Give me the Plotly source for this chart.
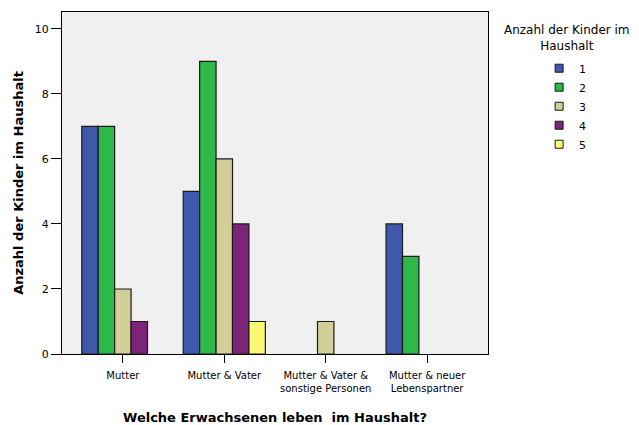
import plotly.graph_objects as go

# Household composition categories (x axis)
categories = [
    "Mutter",
    "Mutter & Vater",
    "Mutter & Vater &<br>sonstige Personen",
    "Mutter & neuer<br>Lebenspartner",
]

# Number of children in household -> counts per category (None = no bar)
series_names = ["1", "2", "3", "4", "5"]
counts_1 = [7, 5, None, 4]
counts_2 = [7, 9, None, 3]
counts_3 = [2, 6, 1, None]
counts_4 = [1, 4, None, None]
counts_5 = [None, 1, None, None]

y_ticks = [0, 2, 4, 6, 8, 10]

colors = ["#3e58ac", "#2eb84a", "#d3ce97", "#7b2479", "#fbf873"]
all_counts = [counts_1, counts_2, counts_3, counts_4, counts_5]

FONT = "DejaVu Sans"
OUTLINE = "#1a1a1a"

fig = go.Figure()
for name, vals, col in zip(series_names, all_counts, colors):
    fig.add_trace(go.Bar(
        x=list(range(len(categories))),
        y=vals,
        name=name,
        legendgroup=name,
        showlegend=False,
        marker=dict(color=col, line=dict(color=OUTLINE, width=1.2)),
    ))

# small square legend keys for the series
for name, col in zip(series_names, colors):
    fig.add_trace(go.Scatter(
        x=[None], y=[None], mode="markers", name=name, legendgroup=name,
        marker=dict(symbol="square", size=8, color=col,
                    line=dict(color=OUTLINE, width=1)),
    ))

# legend heading
fig.add_annotation(
    text="Anzahl der Kinder im<br>Haushalt",
    xref="paper", yref="paper", x=1.185, y=1.0, yshift=-9,
    xanchor="center", yanchor="top", showarrow=False, align="center",
    font=dict(family=FONT, size=12),
)

# x axis title
fig.add_annotation(
    text="<b>Welche Erwachsenen leben  im Haushalt?</b>",
    xref="paper", yref="paper", x=0.5, y=0.0, yshift=-63,
    xanchor="center", yanchor="middle", showarrow=False,
    font=dict(family=FONT, size=13),
)

fig.update_layout(
    width=639,
    height=425,
    margin=dict(l=62, r=151, t=12, b=71),
    paper_bgcolor="white",
    plot_bgcolor="#f0f0f0",
    barmode="group",
    bargap=0.19,
    bargroupgap=0,
    font=dict(family=FONT, color="black", size=10),
    showlegend=True,
    legend=dict(
        x=1.12, xref="paper", xanchor="left",
        y=0.878, yanchor="top",
        font=dict(family=FONT, size=11),
        bgcolor="rgba(0,0,0,0)",
        itemclick=False,
        tracegroupgap=0,
    ),
    xaxis=dict(
        range=[-0.6, 3.6],
        tickmode="array",
        tickvals=list(range(len(categories))),
        ticktext=categories,
        ticks="outside",
        ticklen=8,
        tickcolor="black",
        ticklabelstandoff=4,
        tickfont=dict(family=FONT, size=10),
        showline=True, linecolor="black", linewidth=1.2,
        mirror=True,
        showgrid=False, zeroline=False,
        automargin=False,
    ),
    yaxis=dict(
        range=[0, 10.52],
        tickmode="array",
        tickvals=y_ticks,
        ticks="outside",
        ticklen=10,
        tickcolor="black",
        tickfont=dict(family=FONT, size=11),
        showline=True, linecolor="black", linewidth=1.2,
        mirror=True,
        showgrid=False, zeroline=False,
        automargin=False,
        title=dict(text="Anzahl der Kinder im Haushalt",
                   font=dict(family=FONT, size=13, weight="bold"), standoff=8),
    ),
)

fig.write_html("out.html")
